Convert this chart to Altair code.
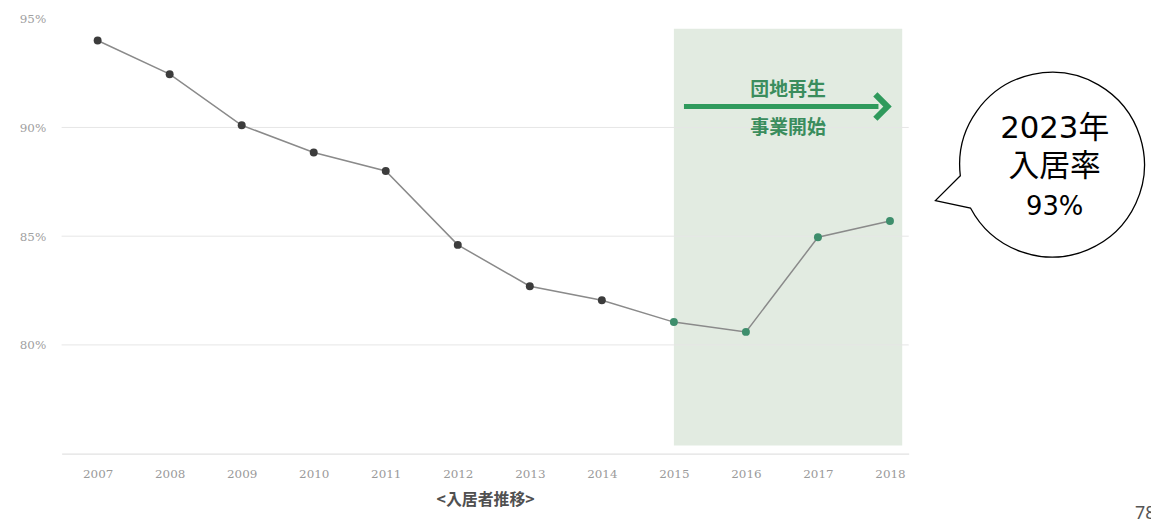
import altair as alt
import pandas as pd

# ---- data ----
years = [2007, 2008, 2009, 2010, 2011, 2012, 2013, 2014, 2015, 2016, 2017, 2018]
rates = [94.0, 92.45, 90.1, 88.85, 88.0, 84.6, 82.7, 82.05, 81.05, 80.6, 84.95, 85.7]
phase = ["before"] * 8 + ["after"] * 4
y_ticks = [80, 85, 90, 95]
grid_values = [80, 85, 90]

band_start, band_end = 2015.0, 2018.17
band_bottom, band_top = 75.37, 94.54
arrow_label_top = "団地再生"
arrow_label_bottom = "事業開始"
bubble_lines = ["2023年", "入居率", "93%"]
bubble_sizes = [31, 31, 26]
axis_title = "<入居者推移>"
page_number = "78"

W, H = 853, 438
GREEN = "#2f9a5c"
TEXT_GREEN = "#3a8d5d"
BUBBLE_FONT = "DejaVu Sans, Noto Sans CJK JP"

df = pd.DataFrame({"year": years, "rate": rates, "phase": phase})

xscale = alt.Scale(domain=[2006.5, 2018.26], nice=False, zero=False)
yscale = alt.Scale(domain=[75, 95], nice=False, zero=False)

x_axis = alt.Axis(
    values=years, format="d", title=axis_title, grid=False, ticks=False,
    domainColor="#e2e2e2", domainWidth=1.2,
    labelFont="DejaVu Serif", labelFontSize=12, labelColor="#9a9a9a", labelPadding=15,
    titleFont="Noto Sans CJK JP", titleFontSize=16, titleFontWeight="bold",
    titleColor="#505050", titlePadding=12,
)
y_axis = alt.Axis(
    values=y_ticks, grid=False, ticks=False, domain=False, title=None,
    labelFont="DejaVu Serif", labelFontSize=12, labelColor="#a0a0a0", labelPadding=16,
    labelExpr="datum.value + '%'",
)

band = alt.Chart(pd.DataFrame({"x": [band_start], "x2": [band_end],
                               "y": [band_bottom], "y2": [band_top]})).mark_rect(
    color="#e2ebe1"
).encode(
    x=alt.X("x:Q", scale=xscale, axis=x_axis),
    x2="x2:Q",
    y=alt.Y("y:Q", scale=yscale, axis=y_axis),
    y2="y2:Q",
)

grid = alt.Chart(pd.DataFrame({"g": grid_values})).mark_rule(
    color="#e6e6e6", strokeWidth=1
).encode(
    y=alt.Y("g:Q", scale=yscale),
    x=alt.value(0), x2=alt.value(W),
)

line = alt.Chart(df).mark_line(color="#8a8a8a", strokeWidth=1.5).encode(
    x=alt.X("year:Q", scale=xscale),
    y=alt.Y("rate:Q", scale=yscale),
)

points = alt.Chart(df).mark_point(filled=True, size=64, opacity=1).encode(
    x=alt.X("year:Q", scale=xscale),
    y=alt.Y("rate:Q", scale=yscale),
    color=alt.Color("phase:N", scale=alt.Scale(domain=["before", "after"],
                                               range=["#3c3c3c", "#3e8e6c"]), legend=None),
)

arrow_df = pd.DataFrame({"x": [2015.14], "x2": [2017.84], "y": [90.96]})
arrow = alt.Chart(arrow_df).mark_rule(color=GREEN, strokeWidth=5).encode(
    x=alt.X("x:Q", scale=xscale), x2="x2:Q", y=alt.Y("y:Q", scale=yscale)
)
head = alt.Chart(pd.DataFrame({"x": [2017.89], "y": [90.96]})).mark_point(
    shape="M-0.55,-1L0.45,0L-0.55,1", filled=False, stroke=GREEN, strokeWidth=6,
    size=600, opacity=1, strokeJoin="miter"
).encode(x=alt.X("x:Q", scale=xscale), y=alt.Y("y:Q", scale=yscale))

arrow_text = alt.Chart(pd.DataFrame({
    "x": [(band_start + band_end) / 2] * 2,
    "y": [91.7, 89.97],
    "t": [arrow_label_top, arrow_label_bottom],
})).mark_text(
    font="Noto Sans CJK JP", fontSize=19, fontWeight="bold", color=TEXT_GREEN,
    baseline="middle", align="center"
).encode(x=alt.X("x:Q", scale=xscale), y=alt.Y("y:Q", scale=yscale), text="t:N")

# speech bubble (outside the plot area, in pixel positions)
BX = 998
bubble = alt.Chart(pd.DataFrame({"k": [0]})).mark_point(
    shape="M-1,0.13A1,1 0 1,1 -0.89,0.48L-1.27,0.4Z",
    filled=True, fill="white", stroke="black", strokeWidth=1.3, size=34596, opacity=1
).encode(x=alt.value(BX), y=alt.value(146))

bubble_y = [111, 149, 190]
bubble_texts = [
    alt.Chart(pd.DataFrame({"t": [t]})).mark_text(
        font=BUBBLE_FONT, fontSize=fs, color="black",
        baseline="middle", align="center"
    ).encode(x=alt.value(BX + 2), y=alt.value(py), text="t:N")
    for t, fs, py in zip(bubble_lines, bubble_sizes, bubble_y)
]

page = alt.Chart(pd.DataFrame({"t": [page_number]})).mark_text(
    font="Noto Sans", fontSize=18, color="#555555", align="left", baseline="middle"
).encode(x=alt.value(1081), y=alt.value(499), text="t:N")

chart = alt.layer(
    band, grid, line, points, arrow, head, arrow_text, bubble, *bubble_texts, page
).properties(
    width=W, height=H,
    autosize=alt.AutoSizeParams(type="none"),
    padding={"left": 54, "top": 9, "right": 244, "bottom": 64},
).configure_view(stroke=None)

chart.save("out.html", embed_options={"renderer": "svg", "actions": False})
